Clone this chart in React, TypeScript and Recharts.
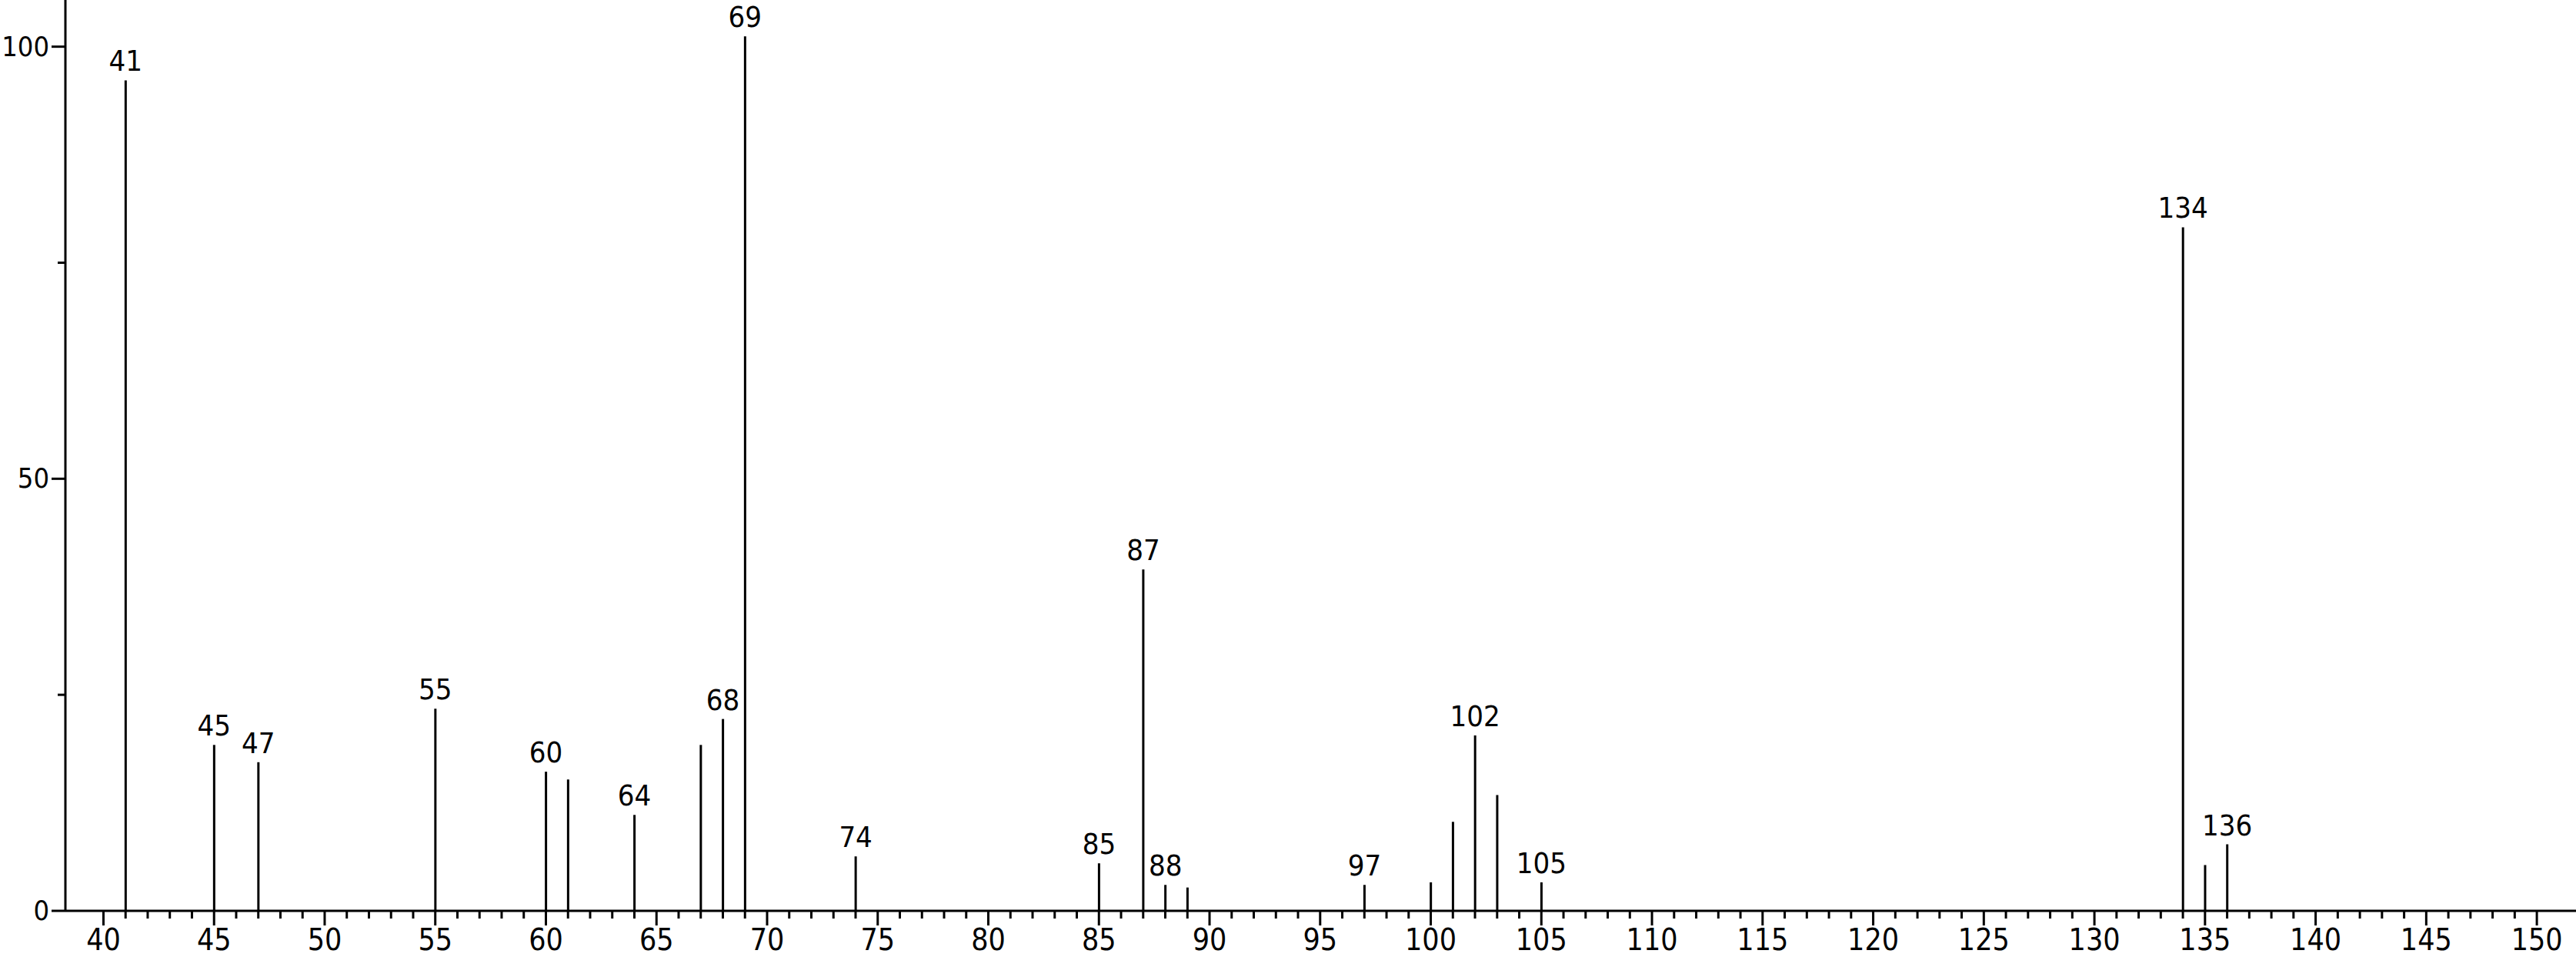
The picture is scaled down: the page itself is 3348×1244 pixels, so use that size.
import React from "react";
import { BarChart, Bar, XAxis, YAxis, LabelList } from "recharts";

// m/z of each peak and its relative intensity
const masses = [
  41, 45, 47, 55, 60, 61, 64, 67, 68, 69, 74, 85, 87, 88, 89, 97, 100, 101,
  102, 103, 105, 134, 135, 136,
];
const intensities = [
  96.1, 19.2, 17.2, 23.4, 16.1, 15.2, 11.1, 19.2, 22.2, 101.2, 6.3, 5.5, 39.5,
  3.0, 2.7, 3.0, 3.3, 10.3, 20.3, 13.4, 3.3, 79.1, 5.3, 7.7,
];
// peaks that carry a mass label
const labeledMasses = [
  41, 45, 47, 55, 60, 64, 68, 69, 74, 85, 87, 88, 97, 102, 105, 134, 136,
];

const xMajorTicks = [
  40, 45, 50, 55, 60, 65, 70, 75, 80, 85, 90, 95, 100, 105, 110, 115, 120, 125,
  130, 135, 140, 145, 150,
];
const xTicks = Array.from({ length: 111 }, (_, i) => 40 + i); // one minor tick per unit
const yTicks = [0, 25, 50, 75, 100];
const yMajorTicks = [0, 50, 100];

const FONT = '"Liberation Sans Narrow", "DejaVu Sans Condensed", sans-serif';

const data = masses.map((m, i) => ({ mass: m, intensity: intensities[i] }));

const XTick = (props: any) => {
  const { x, y, payload } = props;
  const major = xMajorTicks.includes(payload.value);
  return (
    <g>
      <line x1={x} x2={x} y1={y} y2={y + (major ? 19 : 10)} stroke="#000" strokeWidth={3} />
      {major && (
        <text x={x} y={y + 51} textAnchor="middle" fontSize={39} fontFamily={FONT} fill="#000">
          {payload.value}
        </text>
      )}
    </g>
  );
};

const YTick = (props: any) => {
  const { x, y, payload } = props;
  const major = yMajorTicks.includes(payload.value);
  return (
    <g>
      <line x1={x - (major ? 18 : 10)} x2={x} y1={y} y2={y} stroke="#000" strokeWidth={3} />
      {major && (
        <text x={x - 21} y={y + 12} textAnchor="end" fontSize={36} fontFamily={FONT} fill="#000">
          {payload.value}
        </text>
      )}
    </g>
  );
};

const PeakLabel = (props: any) => {
  const { x, y, width, index } = props;
  const m = masses[index];
  if (!labeledMasses.includes(m)) return null;
  return (
    <text x={x + width / 2} y={y - 12} textAnchor="middle" fontSize={38} fontFamily={FONT} fill="#000">
      {m}
    </text>
  );
};

export default function App() {
  return (
    <div style={{ position: "absolute", left: 0, top: 0, background: "#fff" }}>
      <BarChart
        width={3348}
        height={1244}
        data={data}
        margin={{ top: 0, right: 0, left: 0, bottom: 0 }}
        barSize={3}
      >
        <XAxis
          dataKey="mass"
          type="number"
          domain={[38.28, 151.77]}
          allowDataOverflow
          ticks={xTicks}
          interval={0}
          height={60}
          tickSize={0}
          tickMargin={0}
          tickLine={false}
          axisLine={{ stroke: "#000", strokeWidth: 3 }}
          tick={<XTick />}
        />
        <YAxis
          type="number"
          domain={[0, 105.4]}
          allowDataOverflow
          ticks={yTicks}
          interval={0}
          width={85}
          tickSize={0}
          tickMargin={0}
          tickLine={false}
          axisLine={{ stroke: "#000", strokeWidth: 3 }}
          tick={<YTick />}
        />
        <Bar dataKey="intensity" fill="#000" isAnimationActive={false}>
          <LabelList dataKey="intensity" content={<PeakLabel />} />
        </Bar>
      </BarChart>
    </div>
  );
}
